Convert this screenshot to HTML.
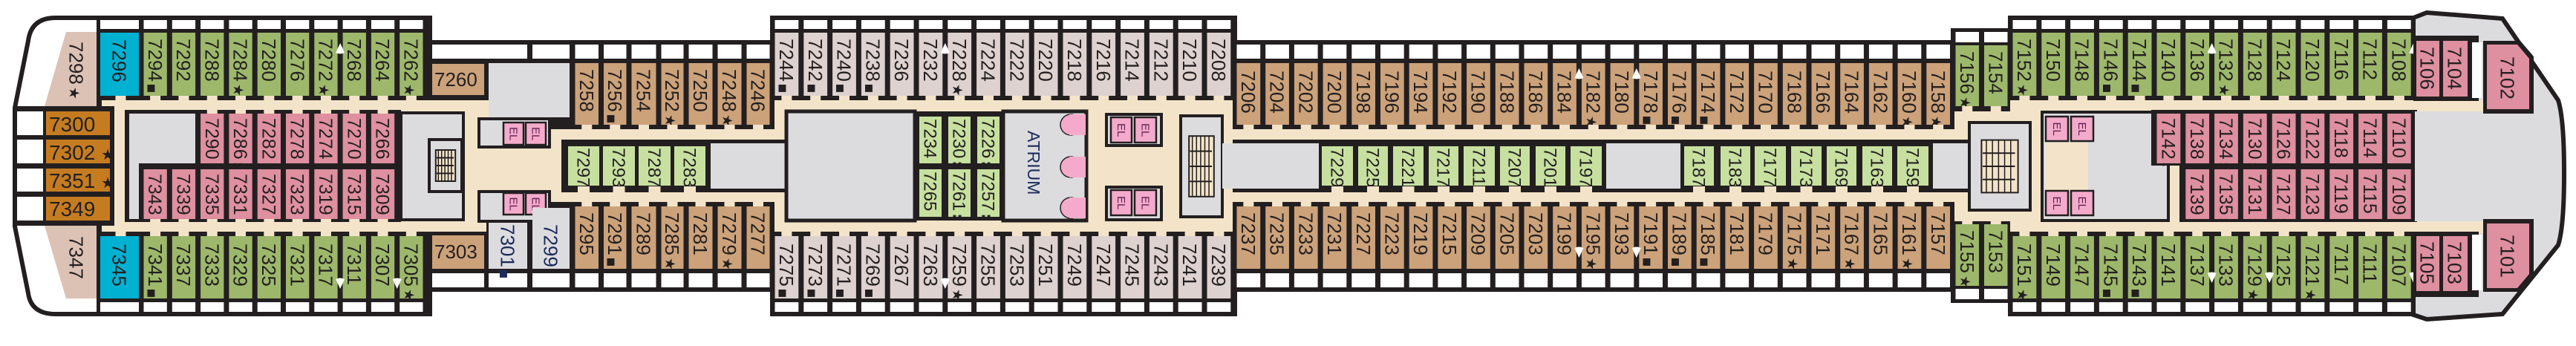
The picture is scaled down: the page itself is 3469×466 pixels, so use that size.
<!DOCTYPE html>
<html><head><meta charset="utf-8">
<style>
html,body{margin:0;padding:0;background:#fff;}
svg{display:block;font-family:"Liberation Sans",sans-serif;}
</style></head>
<body>
<svg id="s" xmlns="http://www.w3.org/2000/svg" width="3469" height="466" viewBox="0 0 3469 466"></svg>
<script>
let o='';
const K='#231f20',W='#fff',GR='#9db86b',LG='#c7e0a0',TN='#cca27a',DU='#ddd2cf',PK='#de8fa0',BL='#00b1d2',OR='#c57c21',ST='#dcc1b5',BG='#f3e4c9',GY='#dcdcdf',EP='#f4abcb';
function R(x,y,w,h,f){o+=`<rect x="${x}" y="${y}" width="${w}" height="${h}" fill="${f}"/>`;}
function RS(x,y,w,h,f,sw){o+=`<rect x="${x}" y="${y}" width="${w}" height="${h}" fill="${f}" stroke="${K}" stroke-width="${sw}"/>`;}
function P(d,f,sw){o+=`<path d="${d}" fill="${f}" ${sw?`stroke="${K}" stroke-width="${sw}"`:''}/>`;}
function VT(cx,y,s,fs,col){fs=fs||26;col=col||K;
 let m=s.match(/^(\d+)(.*)$/);let t=m[1],mk=m[2];
 if(mk){let f=mk=='■'?13:(mk=='★'?19:20);let fw=(mk==':'||mk=='•')?' font-weight="bold"':'';t+=`<tspan font-size="${f}" dx="3"${fw} font-family="DejaVu Sans">${mk}</tspan>`;}
 o+=`<text transform="translate(${cx-fs*0.36},${y}) rotate(90)" font-size="${fs}" fill="${col}">${t}</text>`;}
function HT(x,y,s,fs){o+=`<text x="${x}" y="${y}" font-size="${fs}" fill="${K}">${s}</text>`;}
function cols(a,st,n){let r=[];for(let i=0;i<=n;i++)r.push(a+st*i);return r;}
function row(ds,y0,y1,labels,fill,ty,fs){for(let i=0;i<ds.length-1;i++){let x0=ds[i]+3.5,x1=ds[i+1]-3.5;R(x0,y0,x1-x0,y1-y0,fill);if(labels&&labels[i])VT((x0+x1)/2,y0+(ty||8),labels[i],fs);}}
function gaps(ds,y0,y1,c){for(let i=0;i<ds.length-1;i++){let m=(ds[i]+ds[i+1])/2;R(m-7,y0,14,y1-y0,c||BG);}}
function arr(x,y,up){if(up)P(`M${x},${y} L${x-6},${y+13} Q${x},${y+16} ${x+6},${y+13} Z`,W);else P(`M${x},${y+15} L${x-6},${y+2} Q${x},${y-1} ${x+6},${y+2} Z`,W);}
function EL(x,y,w,h){RS(x,y,w,h,EP,2.5);o+=`<text transform="translate(${x+w/2-5},${y+h/2-9}) rotate(90)" font-size="15" fill="#5a2050">EL</text>`;}
function stair(x,y,w,h){RS(x,y,w,h,GY,4);RS(x+w*0.2,y+h*0.2,w*0.6,h*0.6,BG,2);for(let i=0;i<5;i++){let lx=x+w*0.28+i*w*0.1;o+=`<line x1="${lx}" y1="${y+h*0.2}" x2="${lx}" y2="${y+h*0.8}" stroke="${K}" stroke-width="1.5"/>`;}
 for(let j=1;j<4;j++){let ly=y+h*0.2+j*h*0.15;o+=`<line x1="${x+w*0.22}" y1="${ly}" x2="${x+w*0.75}" y2="${ly}" stroke="${K}" stroke-width="2"/>`;}}

// ---------- hull / base shapes
P('M579,24 H75 Q42,24 38,55 L20,145 V305 L38,395 Q42,423 75,423 H579',W,6);
P('M3250,24 L3268,17 L3370,25 L3445,135 Q3453,160 3453,233 Q3453,305 3445,330 L3370,423 L3268,430 L3250,424 Z',GY,6);
R(130,21,452,405,K);      // A
R(576,54,467,339,K);      // B
R(1037,21,629,405,K);     // C
R(1660,54,972,339,K);     // D
R(2627,38,81,370,K);      // E
R(2704,21,548,405,K);     // F

// ---------- corridors
R(137,135,442,177,BG);
R(579,135,80,177,BG);R(579,174,464,98,BG);
R(1043,135,617,177,BG);
R(1660,174,972,98,BG);
R(2632,150,75,148,BG);
R(2707,135,640,177,BG);
R(3250,136,97,12,BG);R(3250,300,97,14,BG);

// ---------- Section A
const dA=cols(190,38.3,10);
R(135,27,52,12,W);R(135,407,52,13,W);
row(dA,27,39,null,W);row(dA,407,420,null,W);
R(135,44,52,85,BL);VT(161,53,'7296');
R(135,318,52,84,BL);VT(161,328,'7345');
row(dA,44,129,['7294■','7292','7288','7284★','7280','7276','7272★','7268','7264','7262★'],GR);
row(dA,318,402,['7341■','7337','7333','7329','7325','7321','7317','7311','7307','7305★'],GR,10);
gaps(dA,129,135);gaps(dA,312,318);gaps([135,190],129,135);gaps([135,190],312,318);
arr(dA[7],58,true);arr(dA[7],374,false);arr(dA[9],374,false);
// stern
P('M89,43 L130,43 L130,143 L60,143 Z',ST,0);VT(103,56,'7298★');
P('M60,304 L130,304 L130,402 L89,402 Z',ST,0);VT(103,318,'7347');
R(18,143,136,161,K);
[[150,182],[188,220],[227,258],[265,297]].forEach((r,i)=>{R(23,r[0],35,r[1]-r[0],W);R(62,r[0],86,r[1]-r[0],OR);});
HT(66,177,'7300',28);HT(66,215,'7302 <tspan font-size="20" font-family="DejaVu Sans">★</tspan>',28);
HT(66,253,'7351 <tspan font-size="20" font-family="DejaVu Sans">★</tspan>',28);HT(66,291,'7349',28);
// inner A
R(168,148,372,151,K);
R(174,153,89,67,GY);R(174,220,13,75,GY);
row(dA.slice(2,10),153,220,['7290','7286:','7282•','7278','7274','7270','7266'],PK,6,25);
row(dA.slice(0,10),228,295,['7343:','7339:','7335:','7331:','7327','7323','7319','7315','7309'],PK,6,25);
gaps(dA.slice(2,10),148,153);gaps(dA.slice(0,10),295,299);
RS(540,152,84,144,GY,4);stair(578,188,44,70);

// ---------- Section B
R(582,60,128,19,W);R(717,60,50,19,W);
const dB=[771,809.5,847,887,924,963,1002,1040];
row(dB,60,79,null,W);row(dB,368,387,null,W);R(582,368,70,19,W);R(658,368,52,19,W);R(717,368,50,19,W);
R(582,86,70,42,TN);HT(585,116,'7260',26);
R(582,317,70,45,TN);HT(585,348,'7303',26);
R(658,85,109,73,GY);
row(dB,85,168,['7258','7256■','7254','7252★','7250','7248★','7246'],TN);
row(dB,278,362,['7295','7291■','7289','7285★','7281','7279★','7277'],TN);
gaps(dB,168,174);gaps(dB,272,278);
RS(645,160,95,38,GY,4);EL(678,165,27,30);EL(708,165,27,30);
RS(645,258,95,40,GY,4);EL(678,260,27,29);EL(708,260,27,29);
R(655,298,115,64,K);R(658,300,52,62,GY);R(717,280,50,82,GY);
VT(684,302,'7301■',26,'#1b2a5a');VT(742,302,'7299',26,'#1b2a5a');
// center row B -> D frame
R(756,188,1900,71,K);
R(957,193,105,61,GY);
[[765,807],[812,855],[860,903],[908,950]].forEach((c,i)=>{R(c[0],197,c[1]-c[0],53,LG);VT((c[0]+c[1])/2,199,['7297','7293','7287','7283'][i],24);});

// ---------- Section C
const dC=cols(1040,38.8,16);
row(dC,27,39,null,W);row(dC,407,420,null,W);
row(dC,44,129,['7244■','7242■','7240■','7238■','7236','7232','7228★','7224','7222','7220','7218','7216','7214','7212','7210','7208'],DU);
row(dC,318,402,['7275■','7273■','7271■','7269■','7267','7263','7259★','7255','7253','7251','7249','7247','7245','7243','7241','7239'],DU,10);
gaps(dC,129,135);gaps(dC,312,318);
arr(dC[6],58,true);arr(dC[6],374,false);
R(1043,135,617,177,BG);R(1043,188,4,71,K);
R(957,188,100,71,K);R(957,193,105,61,GY);
RS(1059,150,173,147,GY,5);
R(1232,150,118,147,K);
[[1238,1268],[1277,1307],[1316,1346]].forEach((c,i)=>{R(c[0],157,c[1]-c[0],63,LG);VT((c[0]+c[1])/2,160,['7234','7230:','7226:'][i],24);
 R(c[0],228,c[1]-c[0],64,LG);VT((c[0]+c[1])/2,231,['7265','7261:','7257:'][i],24);});
RS(1351,150,112,147,GY,5);
o+=`<text transform="translate(1384,176) rotate(90)" font-size="23" fill="#1b2a5a">ATRIUM</text>`;
[168,225,280].forEach(y=>{o+=`<circle cx="1442" cy="${y}" r="14" fill="${EP}" stroke="${K}" stroke-width="1.5"/>`;R(1440,y-14,22,28,EP);});
RS(1490,154,74,42,GY,4);EL(1496,158,28,34);EL(1528,158,29,34);
RS(1490,252,74,44,GY,4);EL(1496,256,28,34);EL(1528,256,29,34);
stair(1590,156,56,136);
R(1646,193,16,61,GY);

// ---------- Section D
const dD=cols(1662,38.7,25);
row(dD,60,79,null,W);row(dD,368,387,null,W);
row(dD,85,168,['7206','7204','7202','7200','7198','7196','7194','7192','7190','7188','7186','7184','7182★','7180','7178■','7176■','7174■','7172','7170','7168','7166','7164','7162','7160★','7158★'],TN,10);
row(dD,278,362,['7237','7235','7233','7231','7227','7223','7219','7215','7209','7205','7203','7199','7195★','7193','7191■','7189■','7185■','7181','7179','7175★','7171','7167★','7165','7161★','7157'],TN,8);
gaps(dD,168,174);gaps(dD,272,278);
arr(dD[12],92,true);arr(dD[14],92,true);arr(dD[12],332,false);arr(dD[14],332,false);
R(1662,193,114,61,GY);
[[1780,1822],[1829,1869],[1876,1917],[1924,1964],[1971,2013],[2020,2060],[2068,2108],[2115,2157]].forEach((c,i)=>{R(c[0],197,c[1]-c[0],53,LG);VT((c[0]+c[1])/2,199,['7229','7225','7221','7217','7211','7207','7201','7197'][i],24);});
R(2163,193,100,61,GY);
[[2268,2308],[2317,2357],[2363,2405],[2412,2453],[2460,2500],[2508,2548],[2555,2597]].forEach((c,i)=>{R(c[0],197,c[1]-c[0],53,LG);VT((c[0]+c[1])/2,199,['7187','7183','7177','7173','7169','7163','7159'][i],24);});
R(2603,193,50,61,GY);
// gaps under center rows
[[765,807],[812,855],[860,903],[908,950],[1780,1822],[1829,1869],[1876,1917],[1924,1964],[1971,2013],[2020,2060],[2068,2108],[2115,2157],[2268,2308],[2317,2357],[2363,2405],[2412,2453],[2460,2500],[2508,2548],[2555,2597]].forEach(c=>{let m=(c[0]+c[1])/2;R(m-8,251,16,8,BG);});

// ---------- Section E
const dE=[2630,2668.5,2707];
row(dE,43,57,null,W);row(dE,389,403,null,W);
row(dE,61,143,['7156★','7154'],GR,8);
row(dE,302,385,['7155★','7153'],GR,8);
gaps(dE,143,150);gaps(dE,296,302);

// ---------- Section F
const dF=cols(2707,38.8,14);
row(dF,27,39,null,W);row(dF,407,420,null,W);
row(dF,44,129,['7152★','7150','7148','7146■','7144■','7140','7136','7132★','7128','7124','7120','7116','7112','7108'],GR);
row(dF,318,402,['7151★','7149','7147','7145■','7143■','7141','7137','7133','7129★','7125','7121★','7117','7111','7107'],GR,10);
gaps(dF,129,135);gaps(dF,312,318);
arr(dF[7],58,true);arr(dF[14],58,true);arr(dF[7],366,false);arr(dF[9],366,false);arr(dF[14],366,false);
stair(2652,165,82,118);
RS(2750,151,170,146,GY,4);
R(2754,192,58,66,BG);
EL(2755,157,30,33);EL(2789,157,30,33);EL(2755,257,30,33);EL(2789,257,30,33);
R(2897,148,358,75,K);R(2935,222,320,77,K);
row(dF.slice(5),153,220,['7142:','7138','7134:','7130:','7126•','7122•','7118','7114','7110'],PK,6,25);
row(dF.slice(6),228,295,['7139','7135:','7131:','7127:','7123','7119','7115','7109'],PK,6,25);
R(3252,150,190,148,GY);
// bow cabins
R(3250,48,88,88,K);R(3250,312,88,88,K);
R(3254,55,31,75,PK);VT(3269,63,'7106');R(3290,55,33,75,PK);VT(3306,63,'7104');
R(3254,318,31,74,PK);VT(3269,325,'7105');R(3290,318,33,74,PK);VT(3306,325,'7103');
R(3329,57,13,75,W);R(3329,316,13,75,W);
P('M3344,55 L3394,55 L3412,76 L3412,153 L3344,153 Z',K);P('M3349,60 L3390,60 L3406,79 L3406,147 L3349,147 Z',PK);VT(3377,76,'7102');
P('M3344,295 L3412,295 L3412,372 L3394,393 L3344,393 Z',K);P('M3349,301 L3406,301 L3406,369 L3390,388 L3349,388 Z',PK);VT(3377,316,'7101');
R(3250,136,94,12,BG);R(3250,300,94,12,BG);

document.getElementById('s').innerHTML=o;
</script>
</body></html>
